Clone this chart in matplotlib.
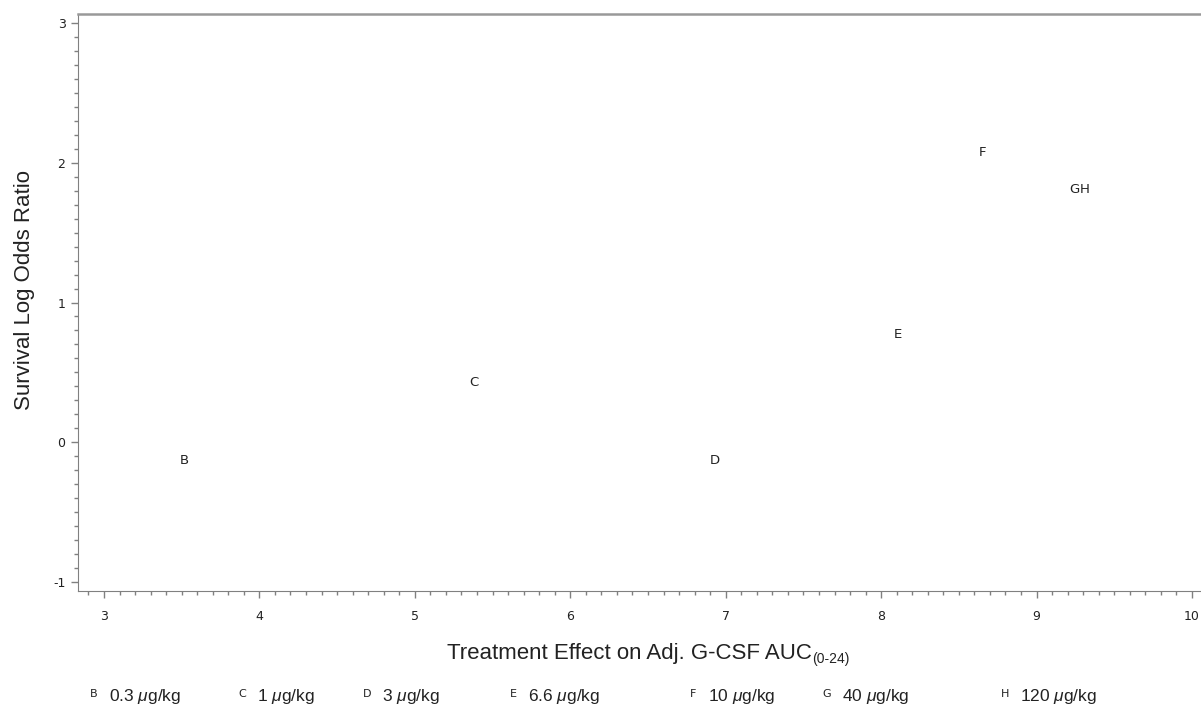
import matplotlib
matplotlib.use("Agg")
import matplotlib.pyplot as plt
from matplotlib.ticker import MultipleLocator, FuncFormatter

plt.rcParams['mathtext.fontset'] = 'custom'
plt.rcParams['mathtext.rm'] = 'Liberation Sans'
plt.rcParams['mathtext.it'] = 'Liberation Sans:italic'

# dose groups and their positions
groups = ['B', 'C', 'D', 'E', 'F', 'G', 'H']
doses = ['0.3', '1', '3', '6.6', '10', '40', '120']
treat_effect = [3.52, 5.38, 6.93, 8.11, 8.65, 9.245, 9.31]
log_odds = [-0.13, 0.43, -0.13, 0.77, 2.07, 1.81, 1.81]

x_ticks = [3, 4, 5, 6, 7, 8, 9, 10]
y_ticks = [-1, 0, 1, 2, 3]

W, H = 1201, 707
txt = '#222222'
fig = plt.figure(figsize=(W / 100, H / 100), dpi=100)
ax = fig.add_axes([78 / W, 1 - 591 / H, (1206 - 78) / W, (591 - 14) / H])

for g, x, y in zip(groups, treat_effect, log_odds):
    ax.text(x, y, g, ha='center', va='center', fontsize=9.5,
            family='DejaVu Sans', color=txt)

ax.set_xlim(2.833, 10.09)
ax.set_ylim(-1.061, 3.061)
ax.set_xticks(x_ticks)
ax.set_yticks(y_ticks)
ax.xaxis.set_minor_locator(MultipleLocator(0.1))
ax.yaxis.set_minor_locator(MultipleLocator(0.1))
plain = FuncFormatter(lambda v, p: '%d' % v)
ax.xaxis.set_major_formatter(plain)
ax.yaxis.set_major_formatter(plain)

gray = '#808080'
ax.tick_params(which='major', length=5, width=1, color=gray,
               labelsize=9, labelcolor=txt)
ax.tick_params(which='minor', length=3, width=1, color=gray)
ax.tick_params(axis='x', pad=9)
ax.tick_params(axis='y', pad=4)
for side in ['left', 'bottom']:
    ax.spines[side].set_color(gray)
ax.spines['top'].set_color('#999999')
ax.spines['top'].set_linewidth(1.8)
ax.spines['right'].set_visible(False)

# x axis title with a subscripted time window
xlab = fig.text(447 / W, 1 - 653 / H, 'Treatment Effect on Adj. G-CSF AUC',
                ha='left', va='center', fontsize=16,
                family='Liberation Sans', color=txt)
fig.canvas.draw()
bb = xlab.get_window_extent()
fig.text(bb.x1 / W + 0.5 / W, 1 - 659 / H, '(0-24)', ha='left', va='center',
         fontsize=10, family='Liberation Sans', color=txt)

fig.text(25 / W, 1 - 290 / H, 'Survival Log Odds Ratio', rotation=90,
         ha='center', va='center', fontsize=16, family='Liberation Sans',
         color=txt)

# legend row beneath the axis title
letter_x = [94, 242, 367, 513, 693, 827, 1005]
for g, d, lx in zip(groups, doses, letter_x):
    fig.text(lx / W, 1 - 694 / H, g, ha='center', va='center',
             fontsize=8, family='DejaVu Sans', color=txt)
    fig.text((lx + 15) / W, 1 - 696 / H, d + ' $\\mu$g/kg', ha='left',
             va='center', fontsize=12.5, family='Liberation Sans', color=txt)

fig.savefig('out.png', dpi=100)
